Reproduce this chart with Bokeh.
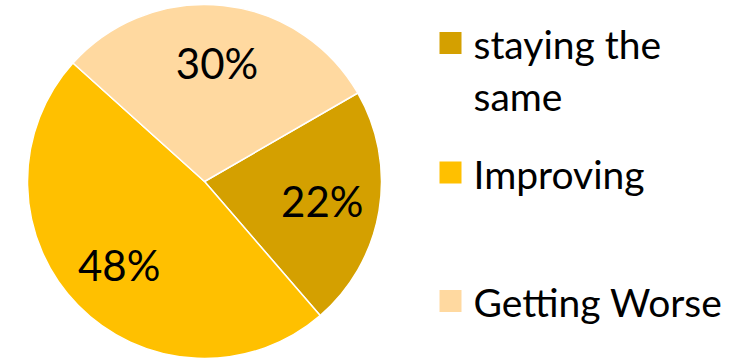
import math
from bokeh.plotting import figure
from bokeh.models import Range1d, ColumnDataSource
from bokeh.core.properties import value
from bokeh.embed import file_html
from bokeh.resources import INLINE

categories = ["staying the same", "Improving", "Getting Worse"]
shares = [22, 48, 30]
colors = ["#D4A000", "#FFC000", "#FFD9A0"]
legend_lines = [["staying the", "same"], ["Improving"], ["Getting Worse"]]

W, H = 743, 358
cx, cy, R = 204, H - 181, 177
start_deg = 30.0
FONT = "Lato"

total = sum(shares)
starts, ends, lx, ly, labels = [], [], [], [], []
acc = 0.0
for s in shares:
    a0 = start_deg - acc / total * 360
    acc += s
    a1 = start_deg - acc / total * 360
    starts.append(math.radians(a0))
    ends.append(math.radians(a1))
    mid = math.radians((a0 + a1) / 2)
    lx.append(cx + 0.675 * R * math.cos(mid))
    ly.append(cy + 0.675 * R * math.sin(mid))
    labels.append(f"{round(s / total * 100)}%")

p = figure(width=W, height=H, output_backend="svg", toolbar_location=None,
           x_range=Range1d(0, W), y_range=Range1d(0, H), min_border=0)
p.axis.visible = False
p.grid.visible = False
p.outline_line_color = None
p.background_fill_color = "white"

src = ColumnDataSource(dict(start=starts, end=ends, color=colors, cat=categories))
p.wedge(x=cx, y=cy, radius=R, start_angle="start", end_angle="end", direction="clock",
        fill_color="color", line_color="white", line_width=1.5, source=src)

p.text(x=lx, y=ly, text=labels, text_align="center", text_baseline="middle",
       text_font=value(FONT), text_font_size="42px", text_color="black")

# legend
sq_y = [H - 42.5, H - 172, H - 300.5]
sq_x = 450
p.rect(x=[sq_x] * 3, y=sq_y, width=22, height=22, fill_color=colors, line_color=None)
tx, ty, tt = [], [], []
for i, lines in enumerate(legend_lines):
    for j, line in enumerate(lines):
        tx.append(473)
        ty.append(sq_y[i] - 1 - j * 52)
        tt.append(line)
p.text(x=tx, y=ty, text=tt, text_align="left", text_baseline="middle",
       text_font=value(FONT), text_font_size="39px", text_color="black")

open("out.html", "w").write(file_html(p, INLINE))
